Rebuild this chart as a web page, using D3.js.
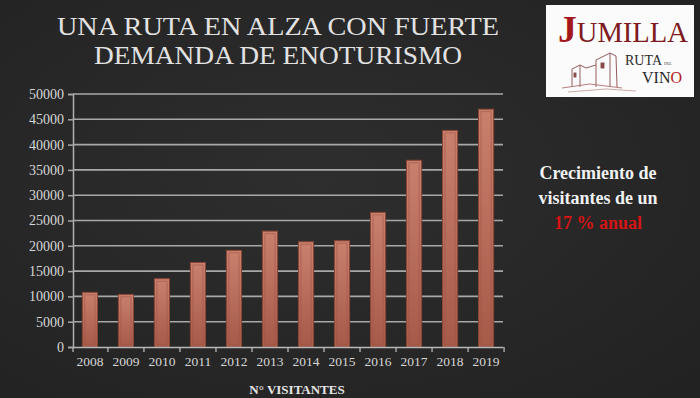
<!DOCTYPE html>
<html>
<head>
<meta charset="utf-8">
<script src="https://cdn.jsdelivr.net/npm/d3@7"></script>
<style>
  body { margin: 0; background: #282828; }
  svg { display: block; }
  .tick text { font-family: "Liberation Serif", "DejaVu Serif", serif; fill: #d6d6d6; }
</style>
</head>
<body>
<svg width="700" height="398"></svg>
<script>
// Visitors per year
const years = ["2008", "2009", "2010", "2011", "2012", "2013", "2014", "2015", "2016", "2017", "2018", "2019"];
const visitors = [10800, 10400, 13500, 16700, 19100, 22900, 20800, 21000, 26600, 36900, 42800, 47000];
const yTicks = [0, 5000, 10000, 15000, 20000, 25000, 30000, 35000, 40000, 45000, 50000];
const titleLines = ["UNA RUTA EN ALZA CON FUERTE", "DEMANDA DE ENOTURISMO"];
const titleWidths = [442, 368];

const data = years.map((y, i) => ({ year: y, value: visitors[i] }));

const svg = d3.select("svg");
const serif = "'Liberation Serif', 'DejaVu Serif', serif";

// background with slight vignette
const defs = svg.append("defs");
const bg = defs.append("radialGradient").attr("id", "bg").attr("cx", "45%").attr("cy", "45%").attr("r", "75%");
bg.append("stop").attr("offset", "0%").attr("stop-color", "#2e2e2e");
bg.append("stop").attr("offset", "100%").attr("stop-color", "#222");
svg.append("rect").attr("width", 700).attr("height", 398).attr("fill", "url(#bg)");

const barGrad = defs.append("linearGradient").attr("id", "bar").attr("x1", 0).attr("y1", 0).attr("x2", 0).attr("y2", 1);
barGrad.append("stop").attr("offset", "0%").attr("stop-color", "#c9806c");
barGrad.append("stop").attr("offset", "100%").attr("stop-color", "#a65a48");

// title
svg.append("g").selectAll("text")
    .data(titleLines)
    .enter()
    .append("text")
    .attr("x", 278)
    .attr("y", (d, i) => 35 + i * 29)
    .attr("text-anchor", "middle")
    .attr("font-family", serif)
    .attr("font-size", 25)
    .attr("textLength", (d, i) => titleWidths[i])
    .attr("lengthAdjust", "spacingAndGlyphs")
    .attr("fill", "#e2e2e2")
    .text(d => d);

const margin = {top: 94, right: 197, bottom: 51, left: 73};
const width = 700 - margin.left - margin.right;
const height = 398 - margin.top - margin.bottom;

const g = svg.append("g")
    .attr("transform", `translate(${margin.left},${margin.top})`);

const x = d3.scaleBand()
    .domain(years)
    .range([0, width])
    .paddingInner(0.58)
    .paddingOuter(0.26);

const y = d3.scaleLinear()
    .domain([0, 50000])
    .range([height, 0]);

// gridlines + y axis
const yAxis = g.append("g")
    .call(d3.axisLeft(y).tickValues(yTicks).tickSize(5).tickPadding(4).tickFormat(d3.format("d")));
yAxis.select(".domain").attr("stroke", "#b0b0b0").attr("stroke-width", 1.5);
yAxis.selectAll(".tick line").attr("stroke", "#a8a8a8").attr("stroke-width", 1.5);
yAxis.selectAll(".tick text").attr("font-size", 14);

g.append("g")
    .selectAll("line")
    .data(yTicks.filter(d => d > 0))
    .enter()
    .append("line")
    .attr("x1", 0)
    .attr("x2", width)
    .attr("y1", d => y(d))
    .attr("y2", d => y(d))
    .attr("stroke", "#a8a8a8")
    .attr("stroke-width", 1.6);

// bars
const bars = g.selectAll(".bar")
    .data(data)
    .enter()
    .append("g")
    .attr("class", "bar");

bars.append("rect")
    .attr("x", d => x(d.year))
    .attr("y", d => y(d.value))
    .attr("width", x.bandwidth())
    .attr("height", d => height - y(d.value))
    .attr("fill", "url(#bar)")
    .attr("stroke", "#8a4536")
    .attr("stroke-width", 1);

bars.append("rect")
    .attr("x", d => x(d.year) + 2.5)
    .attr("y", d => y(d.value) + 2.5)
    .attr("width", x.bandwidth() - 5)
    .attr("height", d => Math.max(0, height - y(d.value) - 5))
    .attr("fill", "none")
    .attr("stroke", "#9b5444")
    .attr("stroke-opacity", 0.7)
    .attr("stroke-width", 0.8);

// x axis, ticks sit between the categories
const xAxis = g.append("g")
    .attr("transform", `translate(0,${height})`)
    .call(d3.axisBottom(x).tickSize(0).tickPadding(9));
xAxis.select(".domain").attr("stroke", "#b8b8b8").attr("stroke-width", 1.5);
xAxis.selectAll(".tick text").attr("font-size", 13.5);

xAxis.selectAll(".sep")
    .data(years)
    .enter()
    .append("line")
    .attr("class", "sep")
    .attr("x1", d => x(d) - x.step() * x.paddingInner() / 2 + x.step())
    .attr("x2", d => x(d) - x.step() * x.paddingInner() / 2 + x.step())
    .attr("y1", 0)
    .attr("y2", 5)
    .attr("stroke", "#b8b8b8")
    .attr("stroke-width", 1.3);
xAxis.append("line")
    .attr("x1", 0).attr("x2", 0).attr("y1", 0).attr("y2", 5)
    .attr("stroke", "#b8b8b8").attr("stroke-width", 1.3);

// x axis title
svg.append("text")
    .attr("x", 297)
    .attr("y", 394)
    .attr("text-anchor", "middle")
    .attr("font-family", serif)
    .attr("font-weight", "bold")
    .attr("font-size", 13)
    .attr("fill", "#e6e6e6")
    .text("N° VISITANTES");

// side note
const note = svg.append("g")
    .attr("font-family", serif)
    .attr("font-weight", "bold")
    .attr("font-size", 18)
    .attr("text-anchor", "middle");
note.append("text").attr("x", 598).attr("y", 179).attr("fill", "#f2f2f2").text("Crecimiento de");
note.append("text").attr("x", 598).attr("y", 204).attr("fill", "#f2f2f2").text("visitantes de un");
note.append("text").attr("x", 598).attr("y", 229).attr("fill", "#d51414").text("17 % anual");

// logo
const logo = svg.append("g").attr("transform", "translate(546,5)");
logo.append("rect").attr("width", 148).attr("height", 92).attr("fill", "#fbfbfb");
const brand = logo.append("text")
    .attr("x", 12)
    .attr("y", 37)
    .attr("font-family", serif)
    .attr("font-size", 29)
    .attr("textLength", 130)
    .attr("lengthAdjust", "spacingAndGlyphs");
brand.append("tspan").attr("fill", "#a4161c").attr("font-weight", "bold").attr("font-size", 38).text("J");
brand.append("tspan").attr("fill", "#7e1a20").text("UMILLA");

logo.append("text").attr("x", 79).attr("y", 60).attr("font-family", serif)
    .attr("font-size", 14).attr("fill", "#2a2a2a").text("RUTA");
logo.append("text").attr("x", 118).attr("y", 60).attr("font-family", serif)
    .attr("font-size", 4).attr("fill", "#444").text("DEL");
const vino = logo.append("text").attr("x", 96).attr("y", 78).attr("font-family", serif)
    .attr("font-size", 16).attr("fill", "#2a2a2a");
vino.append("tspan").text("VIN");
vino.append("tspan").attr("fill", "#b01c22").text("O");

// sketched castle
const castle = logo.append("g").attr("fill", "none").attr("stroke", "#8a4a4a").attr("stroke-width", 0.9);
castle.append("path").attr("d", "M50 82 L50 55 L64 48 L70 51 L71 82");
castle.append("path").attr("d", "M64 48 L64 82");
castle.append("path").attr("d", "M26 82 L26 64 L34 60 L40 63 L50 60");
castle.append("path").attr("d", "M34 60 L34 82");
castle.append("path").attr("d", "M16 83 L44 79 L76 83").attr("stroke", "#b07070");
castle.append("path").attr("d", "M22 87 L60 84 L90 86").attr("stroke", "#c9a0a0");
castle.append("rect").attr("x", 55).attr("y", 58).attr("width", 3).attr("height", 5).attr("fill", "#8a4a4a");
castle.append("rect").attr("x", 28).attr("y", 68).attr("width", 2).attr("height", 4).attr("fill", "#8a4a4a");
</script>
</body>
</html>
